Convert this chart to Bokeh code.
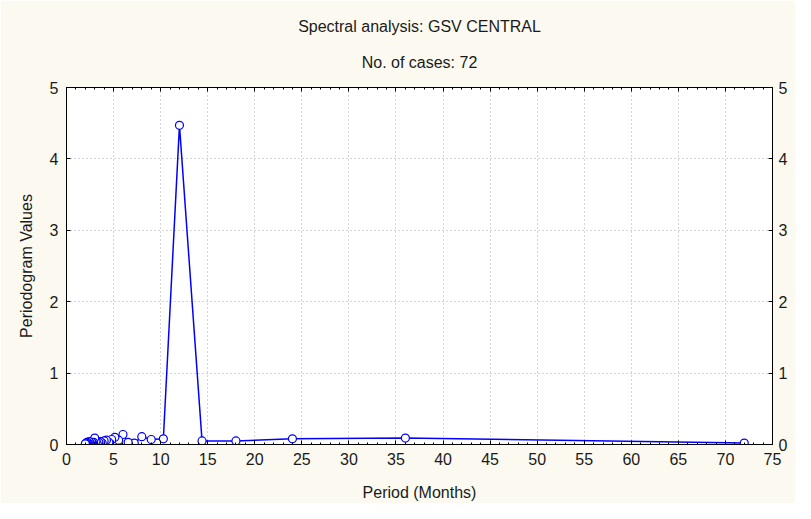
from bokeh.plotting import figure
from bokeh.models import Range1d, LinearAxis, SingleIntervalTicker, Title
from bokeh.embed import file_html
from bokeh.resources import INLINE

# Data: period (months) and periodogram values
periods = [72.0, 36.0, 24.0, 18.0, 14.4, 12.0, 10.29, 9.0, 8.0, 7.2,
           6.55, 6.0, 5.54, 5.14, 4.8, 4.5, 4.24, 4.0, 3.79, 3.6,
           3.43, 3.27, 3.13, 3.0, 2.88, 2.77, 2.67, 2.57, 2.48, 2.4,
           2.32, 2.25, 2.18, 2.12, 2.06, 2.0]
values = [0.02, 0.09, 0.08, 0.05, 0.05, 4.47, 0.08, 0.07, 0.11, 0.02,
          0.03, 0.14, 0.06, 0.10, 0.07, 0.03, 0.06, 0.05, 0.02, 0.04,
          0.03, 0.01, 0.05, 0.09, 0.03, 0.02, 0.03, 0.01, 0.02, 0.04,
          0.02, 0.01, 0.03, 0.02, 0.01, 0.01]

title_main = "Spectral analysis: GSV CENTRAL"
title_sub = "No. of cases: 72"
x_label = "Period (Months)"
y_label = "Periodogram Values"

BG = "#FCFAF0"
FONT = "Liberation Sans"
BLUE = "#0000FF"
TXT = "#1A1A1A"
FS = "16px"

p = figure(width=795, height=503, output_backend="svg", toolbar_location=None,
           x_range=Range1d(0, 75), y_range=Range1d(0, 5),
           min_border_left=66, min_border_right=23, min_border_bottom=58,
           min_border_top=87)
p.title = None
p.background_fill_color = "white"
p.border_fill_color = BG
p.outline_line_color = "black"
p.outline_line_width = 1

xt = SingleIntervalTicker(interval=5, num_minor_ticks=5)
yt = SingleIntervalTicker(interval=1, num_minor_ticks=0)

def style_axis(ax, labels=True):
    ax.axis_line_color = "black"
    ax.major_tick_in = 4
    ax.major_tick_out = 0
    ax.minor_tick_in = 2
    ax.minor_tick_out = 0
    ax.major_tick_line_color = "black"
    ax.minor_tick_line_color = "black"
    ax.major_label_text_font = FONT
    ax.major_label_text_font_size = FS
    ax.major_label_text_color = TXT if labels else None
    ax.axis_label_text_font = FONT
    ax.axis_label_text_font_size = FS
    ax.axis_label_text_font_style = "normal"
    ax.axis_label_text_color = TXT

p.xaxis.ticker = xt
p.yaxis.ticker = yt
style_axis(p.xaxis[0])
style_axis(p.yaxis[0])
p.xaxis.axis_label = x_label
p.yaxis.axis_label = y_label
p.xaxis.major_label_standoff = 8
p.xaxis.axis_label_standoff = 16
p.yaxis.major_label_standoff = 8
p.yaxis.axis_label_standoff = 12

right = LinearAxis(ticker=SingleIntervalTicker(interval=1, num_minor_ticks=0))
style_axis(right)
right.major_label_standoff = 6
p.add_layout(right, "right")

top = LinearAxis(ticker=SingleIntervalTicker(interval=5, num_minor_ticks=5))
style_axis(top, labels=False)
top.major_label_text_font_size = "1px"
top.major_label_standoff = 0
p.add_layout(top, "above")

p.xgrid.ticker = xt
p.ygrid.ticker = yt
for g in (p.xgrid, p.ygrid):
    g.grid_line_color = "#A8A8A8"
    g.grid_line_dash = "1 3"
    g.grid_line_width = 1

p.line(periods, values, line_color=BLUE, line_width=1.5)
p.scatter(periods, values, marker="circle", size=8, line_color=BLUE,
          fill_color="white", line_width=1.2)

p.add_layout(Title(text=title_sub, align="center", text_font=FONT,
                   text_font_size=FS, text_font_style="normal",
                   text_color=TXT, standoff=34), "above")
p.add_layout(Title(text=title_main, align="center", text_font=FONT,
                   text_font_size=FS, text_font_style="normal",
                   text_color=TXT, standoff=0), "above")

open("out.html", "w").write(file_html(p, INLINE))
